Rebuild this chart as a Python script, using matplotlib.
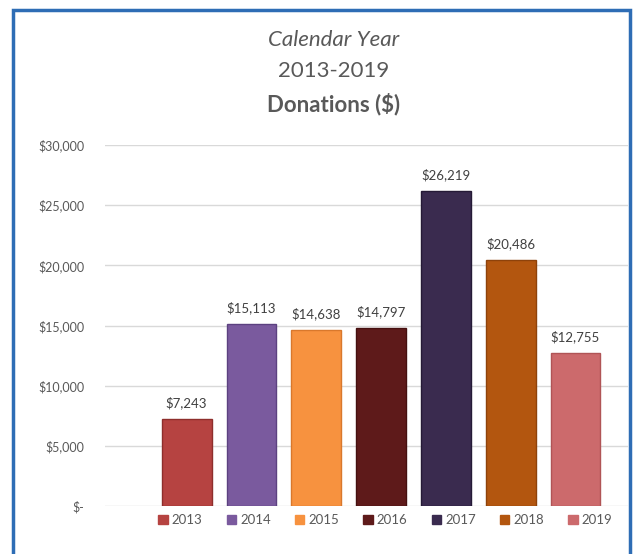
import matplotlib.pyplot as plt
from matplotlib.patches import Rectangle
from matplotlib.ticker import FuncFormatter

# datos
years = ['2013', '2014', '2015', '2016', '2017', '2018', '2019']
donations = [7243, 15113, 14638, 14797, 26219, 20486, 12755]
colors = ['#B64341', '#7A5A9E', '#F7923F', '#5E1A1A', '#3A2B4F', '#B3560F', '#CC6A6C']
edges = ['#8E2E2C', '#5C4180', '#D9782C', '#451010', '#251A36', '#8E420A', '#B05456']
y_ticks = [0, 5000, 10000, 15000, 20000, 25000, 30000]

plt.rcParams['font.family'] = ['Lato', 'DejaVu Sans']

fig = plt.figure(figsize=(6.39, 5.54), dpi=100)
ax = fig.add_axes([0.1643, 0.0866, 0.8185, 0.6516])

x = list(range(len(years)))
bars = ax.bar(x, donations, width=0.77, color=colors, edgecolor=edges, linewidth=1.0, zorder=3)

# etiquetas de valor encima de cada barra
for xi, v in zip(x, donations):
    ax.annotate(f'${v:,}', (xi, v), xytext=(0, 7), textcoords='offset points',
                ha='center', va='bottom', fontsize=9.5, color='#404040')

def money(v, pos):
    if v == 0:
        return '$-'
    return f'${v:,.0f}'

ax.set_ylim(0, 30000)
ax.set_xlim(-1.26, 6.81)
ax.set_yticks(y_ticks)
ax.yaxis.set_major_formatter(FuncFormatter(money))
ax.set_xticks([])
ax.tick_params(axis='y', length=0, pad=15, labelsize=9, labelcolor='#595959')
ax.grid(axis='y', color='#D9D9D9', linewidth=1, zorder=0)
for s in ax.spines.values():
    s.set_visible(False)

# titulo en tres lineas
fig.text(0.522, 1 - 40 / 554, 'Calendar Year', ha='center', va='center',
         fontsize=16, style='italic', color='#595959')
fig.text(0.522, 1 - 71 / 554, '2013-2019', ha='center', va='center',
         fontsize=16, color='#595959')
fig.text(0.522, 1 - 104 / 554, 'Donations ($)', ha='center', va='center',
         fontsize=16, fontweight='bold', color='#595959')

# leyenda
handles = [Rectangle((0, 0), 1, 1, color=c) for c in colors]
fig.legend(handles, years, loc='center', bbox_to_anchor=(0.603, 1 - 520 / 554),
           ncol=7, frameon=False, fontsize=9.5, labelcolor='#595959',
           handlelength=0.7, handleheight=0.7, handletextpad=0.3, columnspacing=1.85)

# marco azul
fig.patches.append(Rectangle((13 / 639, -0.05), (630 - 13) / 639, 1.05 - 10 / 554,
                             transform=fig.transFigure, fill=False,
                             edgecolor='#2E6DB5', linewidth=2.5))

fig.savefig('out.png', dpi=100, facecolor='white')
